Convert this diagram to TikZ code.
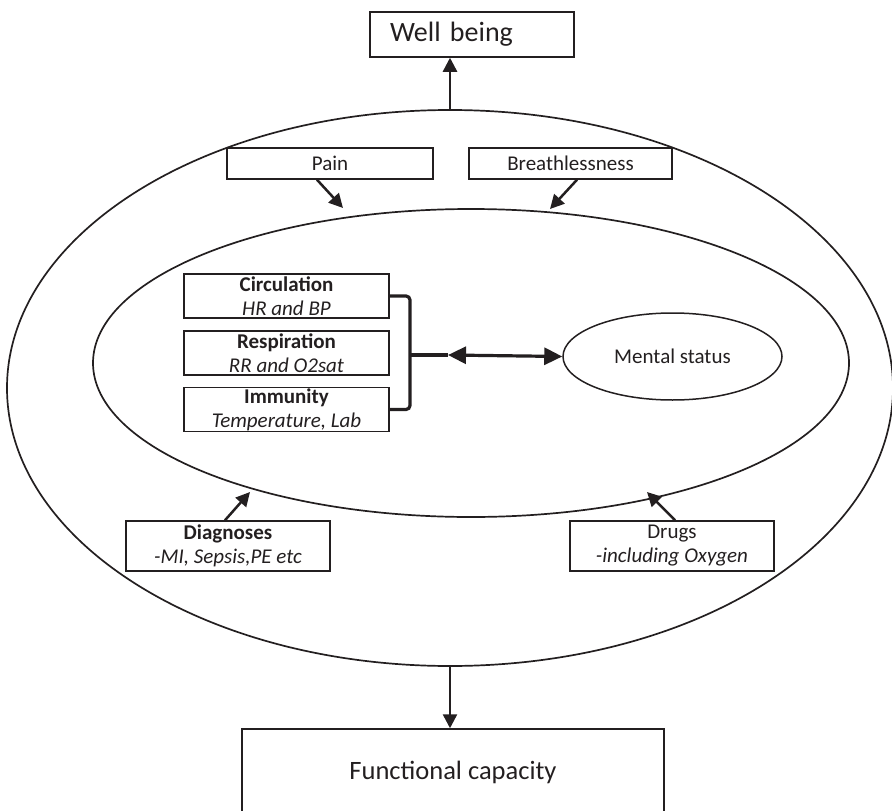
\documentclass[tikz,border=0pt]{standalone}
\usepackage{fontspec}
\setmainfont{Carlito}
\usetikzlibrary{arrows.meta,shapes.geometric}
\definecolor{ink}{HTML}{231F20}
\newcommand\labelsize{\fontsize{21}{24}\selectfont}
\newcommand\titlesize{\fontsize{28}{32}\selectfont}
\newcommand\bigsize{\fontsize{26.5}{30}\selectfont}
\begin{document}
\begin{tikzpicture}[x=1pt,y=-1pt,
  every node/.style={text=ink},
  box/.style={draw=ink, line width=1.5pt, inner sep=0pt, font=\labelsize, align=center},
  oval/.style={ellipse, draw=ink, line width=1.7pt, inner sep=0pt},
  arr/.style={draw=ink, line width=2.5pt, -{Triangle[length=14pt,width=14pt]}},
  bracket/.style={draw=ink, line width=3.2pt, rounded corners=4pt},
  link/.style={draw=ink, line width=3.2pt},
  bigtip/.style={{Triangle[length=18pt,width=17pt]}-{Triangle[length=18pt,width=17pt]}},
]
\useasboundingbox (0,0) rectangle (892,811);
\clip (0,0) rectangle (892,811);

% the two nested ovals
\node[oval, minimum width=886pt, minimum height=556pt] (outer) at (450,388) {};
\node[oval, minimum width=756pt, minimum height=308pt] (inner) at (471,363) {};

% outcome boxes
\node[box, font=\titlesize, minimum height=45pt, text width=164pt, inner xsep=20pt, align=left] (well) at (472,34.5) {Well being};
\node[box, font=\bigsize, minimum width=422pt, minimum height=86pt] (func) at (453,772) {Functional capacity};

% symptoms on the outer ring
\node[box, minimum width=206pt, minimum height=31pt] (pain) at (330,163.5) {Pain};
\node[box, minimum width=203pt, minimum height=31pt] (breath) at (570.5,163.5) {Breathlessness};

% physiological systems
\node[box, minimum width=205pt, minimum height=44pt] (circ) at (286.5,296) {{\bfseries Circulation}\\{\itshape HR and BP}};
\node[box, minimum width=205pt, minimum height=44pt] (resp) at (286.5,353) {{\bfseries Respiration}\\{\itshape RR and O2sat}};
\node[box, minimum width=205pt, minimum height=44pt] (imm) at (286.5,409.5) {{\bfseries Immunity}\\{\itshape Temperature, Lab}};

\node[oval, line width=1.5pt, minimum width=219pt, minimum height=87pt, font=\labelsize] (mental) at (672.5,356.5) {Mental status};

% modifiers below
\node[box, minimum width=204pt, minimum height=50pt] (diag) at (228,546) {{\bfseries Diagnoses}\\{\itshape -MI, Sepsis,PE etc}};
\node[box, minimum width=204pt, minimum height=50pt] (drugs) at (672,546) {Drugs\\{\itshape -including Oxygen}};

% arrow end points on the inner oval
\coordinate (painTip) at (343,208);
\coordinate (breathTip) at (550,209);
\coordinate (diagTip) at (250,492);
\coordinate (drugsTip) at (647,492);
\coordinate (jn) at (410,355);
\coordinate (tipL) at (448,355);

\draw[arr] ([xshift=-13pt]pain.south) -- (painTip);
\draw[arr] ([xshift=6.5pt]breath.south) -- (breathTip);
\draw[arr] ([xshift=-3pt]diag.north) -- (diagTip);
\draw[arr] ([xshift=3pt]drugs.north) -- (drugsTip);
\draw[arr] (outer.north) -- (outer.north |- well.south);
\draw[arr] (outer.south) -- (outer.south |- func.north);

% bracket joining the three systems to mental status
\draw[bracket] (circ.east) -| (jn) |- (imm.east);
\draw[link] (jn) -- (tipL);
\draw[link, bigtip] (tipL) -- (mental.west);
\end{tikzpicture}
\end{document}
